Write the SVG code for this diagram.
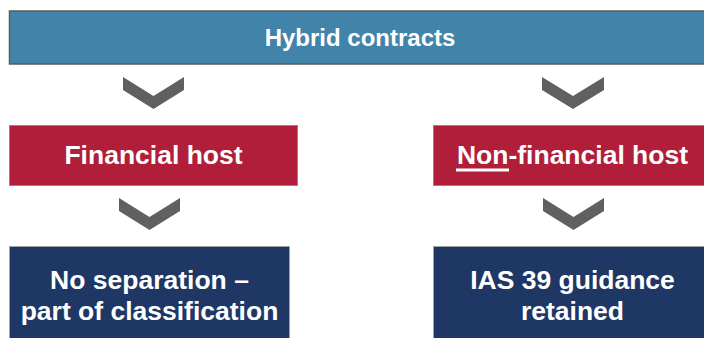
<svg xmlns="http://www.w3.org/2000/svg" width="704" height="338" viewBox="0 0 704 338">
<style>
.t{font-family:"Liberation Sans",Arial,sans-serif;font-weight:bold;fill:#fff;text-anchor:middle}
.bar{fill:#4283A9;stroke:#5a5a5a;stroke-width:1.5}
.red{fill:#B01E3A;stroke:#8a8a8a;stroke-width:1}
.navy{fill:#1F3764;stroke:#a0a0a0;stroke-width:1}
.chev{fill:#5F6062}
</style>
<rect width="704" height="338" fill="#fff"/>
<g id="hybrid">
<rect class="bar" x="9.5" y="11" width="700" height="53"/>
<text class="t" x="360" y="46" font-size="24">Hybrid contracts</text>
</g>
<g id="connectors">
<polygon class="chev" points="123,77 153.5,96 184,77 184,90 153.5,109 123,90"/>
<polygon class="chev" points="542,77 573,96 604,77 604,90 573,109 542,90"/>
<polygon class="chev" points="119,198 149.5,217 180,198 180,211 149.5,230 119,211"/>
<polygon class="chev" points="543,198 573.5,217 604,198 604,211 573.5,230 543,211"/>
</g>
<g id="financial">
<rect class="red" x="9.5" y="125.5" width="288" height="60"/>
<text class="t" x="153.5" y="164" font-size="26.5">Financial host</text>
</g>
<g id="nonfinancial">
<rect class="red" x="433.5" y="125.5" width="280" height="60"/>
<text class="t" x="572.5" y="164" font-size="26.5">Non-financial host</text>
<rect x="456" y="168.5" width="53" height="3" fill="#fff"/>
</g>
<g id="noseparation">
<rect class="navy" x="9.5" y="246.5" width="280" height="100"/>
<text class="t" x="149.5" y="289" font-size="26.5">No separation –</text>
<text class="t" x="149.5" y="320" font-size="26.5">part of classification</text>
</g>
<g id="ias39">
<rect class="navy" x="433.5" y="246.5" width="280" height="100"/>
<text class="t" x="572.5" y="289" font-size="26.5">IAS 39 guidance</text>
<text class="t" x="572.5" y="320" font-size="26.5">retained</text>
</g>
</svg>
